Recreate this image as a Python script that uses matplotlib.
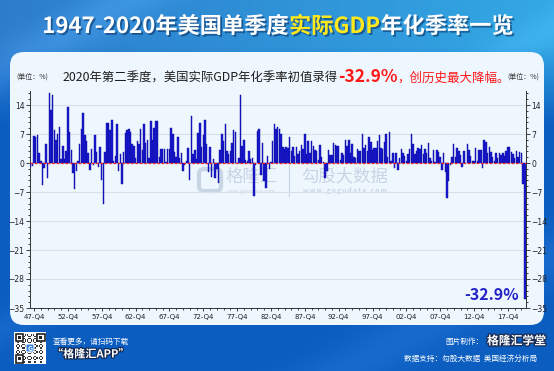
import matplotlib.pyplot as plt
import matplotlib.patheffects as pe
from matplotlib.patches import FancyBboxPatch, Rectangle
from matplotlib.ticker import MultipleLocator, FixedLocator
import numpy as np

plt.rcParams['font.family'] = ['Noto Sans CJK SC', 'DejaVu Sans']

# 美国实际GDP 环比折年率 (%), 1947Q2 - 2020Q2
first_year, first_q = 1947, 2
gdp_growth = [
    -1.0, -0.8, 6.4,            # 1947
    6.2, 6.8, 2.3, 0.4,         # 1948
    -5.4, -1.3, 4.5, -3.5,      # 1949
    16.9, 12.7, 16.4, 7.9,      # 1950
    5.5, 7.1, 8.6, 1.0,         # 1951
    4.2, 0.9, 3.0, 13.6,        # 1952
    7.6, 3.1, -2.4, -6.2,       # 1953
    -1.9, 0.4, 4.6, 8.1,        # 1954
    12.0, 6.7, 5.4, 2.3,        # 1955
    -1.6, 3.3, -0.4, 6.8,       # 1956
    2.6, -0.9, 3.9, -4.1,       # 1957
    -10.0, 2.6, 9.6, 9.7,       # 1958
    7.9, 10.4, 0.6, 1.7,        # 1959
    9.3, -2.0, 2.1, -5.0,       # 1960
    2.7, 7.2, 7.9, 8.2,         # 1961
    7.4, 4.5, 4.0, 1.1,         # 1962
    5.3, 4.6, 8.3, 3.1,         # 1963
    9.3, 4.8, 5.5, 1.1,         # 1964
    10.2, 5.5, 8.5, 10.1,       # 1965
    10.2, 1.5, 3.4, 3.5,        # 1966
    3.5, 0.2, 3.3, 3.3,         # 1967
    8.5, 7.0, 2.7, 1.5,         # 1968
    6.3, 1.1, 2.5, -1.9,        # 1969
    -0.6, 0.6, 3.7, -4.2,       # 1970
    11.3, 2.2, 3.1, 1.0,        # 1971
    7.3, 9.6, 3.8, 6.8,         # 1972
    10.3, 4.5, -2.1, 3.9,       # 1973
    -3.4, 1.0, -3.7, -1.5,      # 1974
    -4.8, 3.1, 6.9, 5.4,        # 1975
    9.4, 3.0, 2.2, 2.9,         # 1976
    4.8, 8.0, 7.4, 0.0,         # 1977
    1.3, 16.4, 4.1, 5.5,        # 1978
    0.7, 0.4, 3.0, 1.0,         # 1979
    1.3, -8.0, -0.5, 7.7,       # 1980
    8.1, -2.9, 4.9, -4.3,       # 1981
    -6.1, 1.8, -1.5, 0.2,       # 1982
    5.4, 9.4, 8.2, 8.6,         # 1983
    8.1, 7.1, 3.9, 3.3,         # 1984
    3.9, 3.6, 6.2, 3.0,         # 1985
    3.8, 1.8, 3.9, 2.2,         # 1986
    3.0, 4.4, 3.5, 7.0,         # 1987
    2.1, 5.4, 2.4, 5.4,         # 1988
    4.1, 3.1, 3.0, 0.8,         # 1989
    4.4, 1.5, 0.3, -3.6,        # 1990
    -1.9, 3.2, 2.0, 1.9,        # 1991
    4.9, 4.4, 4.0, 4.2,         # 1992
    0.7, 2.3, 1.9, 5.5,         # 1993
    4.0, 5.5, 2.3, 4.6,         # 1994
    1.4, 1.2, 3.4, 3.0,         # 1995
    2.8, 7.1, 3.6, 4.4,         # 1996
    2.8, 6.3, 5.1, 3.1,         # 1997
    3.7, 3.6, 5.2, 6.8,         # 1998
    3.6, 3.3, 5.1, 7.1,         # 1999
    1.5, 7.5, 0.4, 2.4,         # 2000
    -1.3, 2.5, -1.6, 1.1,       # 2001
    3.5, 2.4, 1.8, 0.6,         # 2002
    2.2, 3.5, 7.0, 4.7,         # 2003
    2.2, 3.0, 3.7, 3.5,         # 2004
    4.3, 2.1, 3.4, 2.3,         # 2005
    4.9, 1.2, 0.4, 3.2,         # 2006
    0.2, 3.1, 2.7, 1.4,         # 2007
    -1.6, 2.3, -2.1, -8.4,      # 2008
    -4.4, -0.6, 1.5, 4.5,       # 2009
    1.5, 3.7, 3.0, 2.0,         # 2010
    -1.0, 2.9, -0.1, 4.7,       # 2011
    3.2, 1.7, 0.5, 0.5,         # 2012
    3.6, 0.5, 3.2, 3.2,         # 2013
    -1.1, 5.5, 5.0, 2.3,        # 2014
    3.8, 2.7, 1.5, 0.6,         # 2015
    2.4, 1.2, 2.4, 2.0,         # 2016
    2.3, 1.7, 2.9, 3.9,         # 2017
    3.8, 2.7, 2.1, 1.3,         # 2018
    2.9, 1.5, 2.6, 2.4,         # 2019
    -5.0, -32.9,                # 2020
]
tick_labels = ["47-Q4", "52-Q4", "57-Q4", "62-Q4", "67-Q4", "72-Q4", "77-Q4", "82-Q4",
               "87-Q4", "92-Q4", "97-Q4", "02-Q4", "07-Q4", "12-Q4", "17-Q4"]
y_ticks = [-35, -28, -21, -14, -7, 0, 7, 14]
latest_label = "-32.9%"


def q_index(label):
    yy = int(label[:2])
    year = 1900 + yy if yy >= 47 else 2000 + yy
    return (year - first_year) * 4 + (int(label[-1]) - first_q)


W, H = 554, 371
fig = plt.figure(figsize=(W / 100, H / 100), dpi=100)

# background
bg = fig.add_axes([0, 0, 1, 1])
bg.set_xlim(0, W)
bg.set_ylim(H, 0)
bg.axis('off')

yy, xx = np.mgrid[0:H, 0:W]
dark = np.array([0x0b, 0x5e, 0xc0]) / 255
left_c = np.array([0x2c, 0x7c, 0xcb]) / 255
right_c = np.array([0x33, 0xa8, 0xe4]) / 255
t = (xx / W)[..., None]
light = left_c * (1 - t) + right_c * t
w = np.clip((125 - yy) / 80, 0, 1)[..., None]
img = light * w + dark * (1 - w)
streak = (0.06 * np.exp(-((yy + 0.55 * xx - 70) / 25) ** 2)
          + 0.05 * np.exp(-((yy + 0.55 * xx - 560) / 30) ** 2)
          + 0.04 * np.exp(-((yy + 0.55 * xx - 330) / 20) ** 2))
img = np.clip(img + streak[..., None], 0, 1)
bg.imshow(img, extent=(0, W, H, 0), aspect='auto', zorder=0)

bg.add_patch(FancyBboxPatch((10, 52), 534, 273, boxstyle="round,pad=0,rounding_size=14",
                            fc='#eef6fe', ec='none', zorder=1))

fig.canvas.draw()
rend = fig.canvas.get_renderer()


def put_row(pieces, x, y, center=False):
    items = []
    for s, kw in pieces:
        tt = bg.text(0, y, s, va='baseline', ha='left', zorder=5, **kw)
        items.append((tt, tt.get_window_extent(rend).width))
    total = sum(wd for _, wd in items)
    if center:
        x = x - total / 2
    for tt, wd in items:
        tt.set_x(x)
        x += wd


shadow = [pe.withSimplePatchShadow(offset=(1.3, -1.3), shadow_rgbFace='#0a3468', alpha=0.6)]
title_kw = dict(fontsize=16, fontweight='bold', path_effects=shadow)
put_row([("1947-2020年美国单季度", dict(color='white', **title_kw)),
         ("实际GDP", dict(color='#ffe81c', **title_kw)),
         ("年化季率一览", dict(color='white', **title_kw))],
        278, 33, center=True)

put_row([("2020年第二季度，美国实际GDP年化季率初值录得", dict(color='#1e1e1e', fontsize=8.9)),
         ("-32.9%", dict(color='#ff1818', fontsize=12.5, fontweight='bold')),
         ("，创历史最大降幅。", dict(color='#ff1818', fontsize=9))],
        63, 81.5)

bg.text(32, 77, "(单位：%)", ha='center', va='center', fontsize=5, color='#333333', zorder=5)
bg.text(523, 77, "(单位：%)", ha='center', va='center', fontsize=5, color='#333333', zorder=5)

# watermark
wm = '#c8d5e4'
bg.add_patch(FancyBboxPatch((199, 169), 22, 22, boxstyle="round,pad=0,rounding_size=5",
                            fc='none', ec=wm, lw=3, zorder=2))
bg.text(252, 177, "格隆汇", ha='center', va='center', fontsize=12.5, color=wm, zorder=2)
bg.text(252, 192, "www.gelonghui.com", ha='center', va='center', fontsize=3.5, color=wm, zorder=2)
bg.plot([289, 289], [165, 196], color=wm, lw=0.8, zorder=2)
bg.text(345, 176, "勾股大数据", ha='center', va='center', fontsize=12.5, color=wm, zorder=2)
bg.text(345, 191, "w w w . g o g u d a t a . c o m", ha='center', va='center', fontsize=4.5,
        color=wm, fontweight='bold', zorder=2)

# result label
bg.text(492, 295, latest_label, ha='center', va='center', fontsize=11.5, fontweight='bold',
        color='#2323c8', zorder=6)

# footer: QR code
bg.add_patch(Rectangle((14, 332), 32, 32, fc='white', ec='none', zorder=3))
for i in range(25):
    for j in range(25):
        if (i * 7 + j * 11 + i * j) % 5 < 2:
            bg.add_patch(Rectangle((15.5 + i * 1.16, 333.5 + j * 1.16), 1.16, 1.16,
                                   fc='#333333', ec='none', zorder=4))
for cx, cy in [(15.5, 333.5), (37, 333.5), (15.5, 355)]:
    bg.add_patch(Rectangle((cx, cy), 7.5, 7.5, fc='white', ec='#222222', lw=1.2, zorder=5))
    bg.add_patch(Rectangle((cx + 2.2, cy + 2.2), 3.1, 3.1, fc='#222222', ec='none', zorder=5))
bg.add_patch(FancyBboxPatch((26, 344), 8, 8, boxstyle="round,pad=0,rounding_size=1.5",
                            fc='#2f7fe0', ec='white', lw=0.8, zorder=6))
bg.text(30, 348.3, "G", ha='center', va='center', fontsize=5, color='white', fontweight='bold', zorder=7)

bg.text(53, 342, "查看更多，请扫码下载", ha='left', va='center', fontsize=5.5, color='white',
        style='italic', zorder=5)
bg.text(52, 354, "“格隆汇APP”", ha='left', va='center', fontsize=8, color='white', fontweight='bold',
        zorder=5, path_effects=[pe.withStroke(linewidth=1.6, foreground='#12244a')])
bg.text(483, 342, "图片制作：", ha='right', va='center', fontsize=5.5, color='white', zorder=5)
bg.text(487, 341, "格隆汇学堂", ha='left', va='center', fontsize=8.5, color='white', fontweight='bold',
        zorder=5, path_effects=[pe.withStroke(linewidth=1.8, foreground='#1a2a50')])
bg.text(537, 359, "数据支持：勾股大数据  美国经济分析局", ha='right', va='center', fontsize=5.5,
        color='white', zorder=5)

# chart
ax = fig.add_axes([30 / W, (H - 308) / H, 496 / W, (308 - 90.5) / H])
ax.patch.set_alpha(0)
idx = np.arange(len(gdp_growth))
ax.bar(idx, gdp_growth, width=0.85, color='#1a1ad4', edgecolor='#0b0b9a', linewidth=0.3, zorder=3)
ax.axhline(0, color='#ff2020', lw=0.9, ls=(0, (2, 1.5)), zorder=4)

ax.set_xlim(-0.4, 292.7)
ax.set_ylim(-35, 17.5)
ax.set_yticks(y_ticks)
ax.yaxis.set_minor_locator(MultipleLocator(1.4))
ax.yaxis.grid(True, color='#d8e0ea', lw=0.8)
ax.set_axisbelow(True)
ax.set_xticks([q_index(s) for s in tick_labels])
ax.set_xticklabels(tick_labels, family=['Liberation Sans Narrow', 'DejaVu Sans'])
ax.xaxis.set_minor_locator(FixedLocator(range(2, len(gdp_growth), 4)))
ax.tick_params(axis='y', which='both', left=True, right=True, labelleft=True, labelright=True,
               direction='out', width=0.6, labelsize=5.5, pad=1, colors='#222222')
ax.tick_params(axis='y', which='major', length=3)
ax.tick_params(axis='y', which='minor', length=1.5)
ax.tick_params(axis='x', which='major', length=2.5, width=0.6, labelsize=5, pad=1.5, colors='#222222')
ax.tick_params(axis='x', which='minor', length=1.5, width=0.5)
for lab in ax.get_yticklabels():
    lab.set_family(['Liberation Sans Narrow', 'DejaVu Sans'])
ax.spines['top'].set_visible(False)
for s in ['left', 'right', 'bottom']:
    ax.spines[s].set_color('#333333')
    ax.spines[s].set_linewidth(0.7)

fig.savefig('out.png', dpi=100)
